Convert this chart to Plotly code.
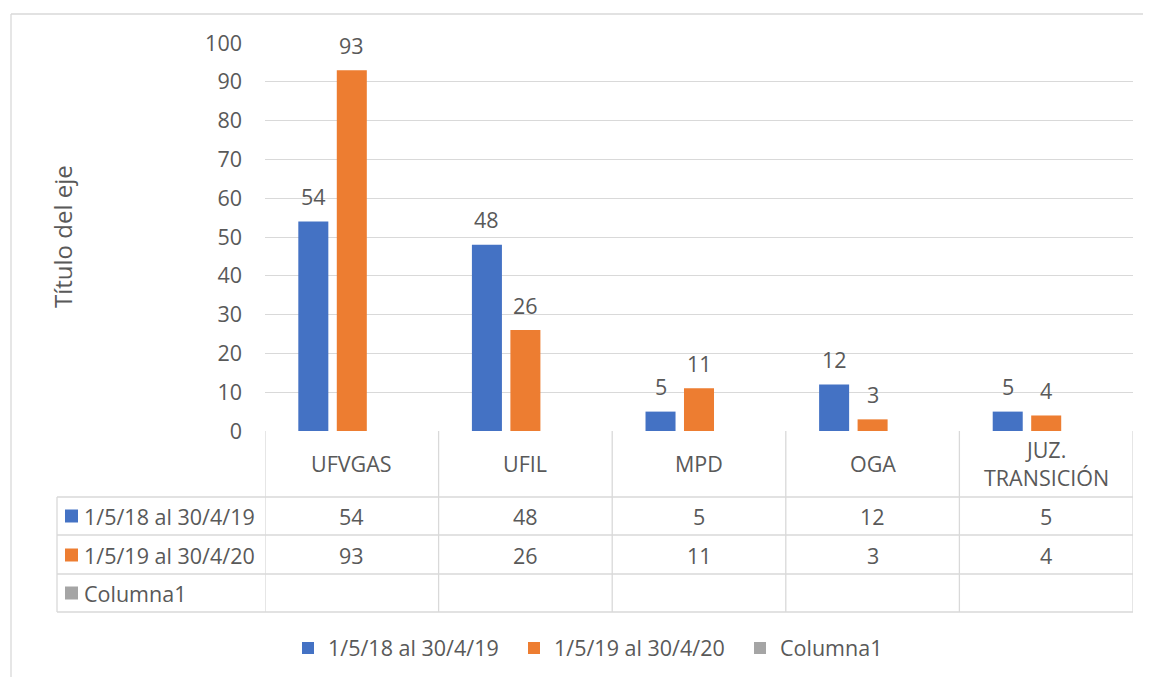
import plotly.graph_objects as go

# ---------------- data ----------------
categories = ["UFVGAS", "UFIL", "MPD", "OGA", "JUZ.<br>TRANSICIÓN"]
series_names = ["1/5/18 al 30/4/19", "1/5/19 al 30/4/20", "Columna1"]
values_2018_19 = [54, 48, 5, 12, 5]
values_2019_20 = [93, 26, 11, 3, 4]
values_columna1 = [None, None, None, None, None]
y_ticks = [0, 10, 20, 30, 40, 50, 60, 70, 80, 90, 100]
axis_title = "Título del eje"

colors = ["#4472C4", "#ED7D31", "#A5A5A5"]
series_values = [values_2018_19, values_2019_20, values_columna1]

# ---------------- layout constants (page pixels) ----------------
W, H = 1151, 677
OFF = 8                                      # default body margin of the page
PL, PR, PT, PB = 265, 1133, 43, 431          # plot area
PW, PH = PR - PL, PB - PT
FONT = "Open Sans"
FS = 21.5
TXT = "#595959"
GRID = "#D9D9D9"
BARGAP = 0.335
BARGROUPGAP = 0.22


def xp(px):
    return (px - PL) / PW


def yp(py):
    return (PB - py) / PH


x_idx = list(range(len(categories)))

fig = go.Figure()
for name, vals, col in zip(series_names, series_values, colors):
    fig.add_trace(go.Bar(
        x=x_idx, y=vals, name=name, marker_color=col,
        marker_line_width=0, hoverinfo="x+y+name",
    ))

shapes = []
annotations = []

# outer chart border (left + top)
shapes.append(dict(type="line", xref="paper", yref="paper",
                   x0=xp(11), x1=xp(11), y0=yp(14), y1=yp(H + 20),
                   line=dict(color=GRID, width=1.3)))
shapes.append(dict(type="line", xref="paper", yref="paper",
                   x0=xp(11), x1=xp(W + 20), y0=yp(14), y1=yp(14),
                   line=dict(color=GRID, width=1.3)))

# data table geometry
row_lines = [497, 535, 574, 612]   # y px of horizontal lines below header
row_centers = [516, 555, 593]
header_center = 464
table_left = 57
tl = dict(color=GRID, width=1.3)

for i in range(len(categories) + 1):
    shapes.append(dict(type="line", xref="x", yref="paper",
                       x0=i - 0.5, x1=i - 0.5, y0=yp(PB), y1=yp(row_lines[-1]),
                       line=tl))
shapes.append(dict(type="line", xref="paper", yref="paper",
                   x0=xp(table_left), x1=xp(table_left),
                   y0=yp(row_lines[0]), y1=yp(row_lines[-1]), line=tl))
for ry in row_lines:
    shapes.append(dict(type="line", xref="paper", yref="paper",
                       x0=xp(table_left), x1=xp(PR), y0=yp(ry), y1=yp(ry),
                       line=tl))

# header (category names)
for i, c in enumerate(categories):
    annotations.append(dict(xref="x", yref="paper", x=i, y=yp(header_center),
                            text=c, showarrow=False, yanchor="middle",
                            font=dict(family=FONT, size=FS, color=TXT)))

# row labels with colour keys, and values
for r, (name, vals, col) in enumerate(zip(series_names, series_values, colors)):
    cy = row_centers[r]
    shapes.append(dict(type="rect", xref="paper", yref="paper",
                       x0=xp(65), x1=xp(78), y0=yp(cy - 6.5), y1=yp(cy + 6.5),
                       fillcolor=col, line=dict(width=0)))
    annotations.append(dict(xref="paper", yref="paper", x=xp(82), y=yp(cy),
                            text=name, showarrow=False, xanchor="left",
                            yanchor="middle",
                            font=dict(family=FONT, size=FS, color=TXT)))
    for i, v in enumerate(vals):
        if v is None:
            continue
        annotations.append(dict(xref="x", yref="paper", x=i, y=yp(cy),
                                text=str(v), showarrow=False, yanchor="middle",
                                font=dict(family=FONT, size=FS, color=TXT)))

# data labels above bars
slot_px = PW / len(categories) * (1 - BARGAP) / len(series_names)
for s, vals in enumerate(series_values):
    for i, v in enumerate(vals):
        if v is None:
            continue
        annotations.append(dict(xref="x", yref="y", x=i, y=v, text=str(v),
                                showarrow=False, yanchor="middle",
                                xshift=(s - 1) * slot_px, yshift=25,
                                font=dict(family=FONT, size=FS, color=TXT)))

# axis title
annotations.append(dict(xref="paper", yref="paper", x=xp(62), y=0.5,
                        text=axis_title, textangle=-90, showarrow=False,
                        xanchor="center", yanchor="middle",
                        font=dict(family=FONT, size=24, color=TXT)))

fig.update_layout(
    width=W, height=H, autosize=False,
    margin=dict(l=PL - OFF, r=W + OFF - PR, t=PT - OFF, b=H + OFF - PB, pad=0),
    paper_bgcolor="white", plot_bgcolor="white",
    barmode="group", bargap=BARGAP, bargroupgap=BARGROUPGAP,
    font=dict(family=FONT, size=FS, color=TXT),
    showlegend=True,
    legend=dict(orientation="h", x=xp(288), y=yp(648),
                xanchor="left", yanchor="middle",
                entrywidth=181, entrywidthmode="pixels",
                font=dict(family=FONT, size=FS, color=TXT),
                bgcolor="rgba(0,0,0,0)", itemclick=False),
    shapes=shapes, annotations=annotations,
    xaxis=dict(range=[-0.5, len(categories) - 0.5], showticklabels=False,
               showgrid=False, zeroline=False, showline=False, ticks="",
               fixedrange=True),
    yaxis=dict(range=[0, 100], tickvals=y_ticks, showgrid=True,
               gridcolor=GRID, gridwidth=1.3, zeroline=False, showline=False,
               ticks="", ticklabelstandoff=22,
               tickfont=dict(family=FONT, size=FS, color=TXT),
               fixedrange=True),
)

fig.write_html("out.html")
